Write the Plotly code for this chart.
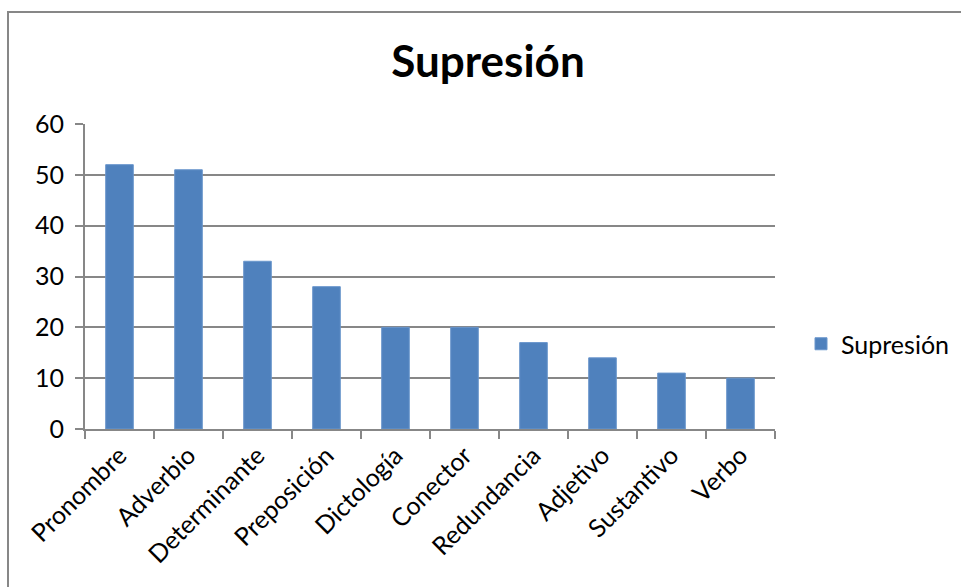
import plotly.graph_objects as go

categories = ["Pronombre", "Adverbio", "Determinante", "Preposición", "Dictología",
              "Conector", "Redundancia", "Adjetivo", "Sustantivo", "Verbo"]
values = [52, 51, 33, 28, 20, 20, 17, 14, 11, 10]
series_name = "Supresión"
y_ticks = [0, 10, 20, 30, 40, 50, 60]

FONT = "Lato, Carlito, Calibri, sans-serif"
GRID = "#878787"
TICK_SIZE = 25

# plot area in pixels
L, R, T, B = 85, 775, 124, 429
W, H = 961, 587

def px_x(p):
    return (p - L) / (R - L)

def px_y(p):
    return (B - p) / (B - T)

fig = go.Figure(
    go.Bar(
        x=categories,
        y=values,
        name=series_name,
        marker=dict(color="#4F81BD", line=dict(color="#6A96CC", width=1)),
        showlegend=True,
    )
)

fig.update_layout(
    width=W,
    height=H,
    margin=dict(l=L, r=W - R, t=T, b=H - B, pad=0, autoexpand=False),
    paper_bgcolor="white",
    plot_bgcolor="white",
    bargap=0.6,
    font=dict(family=FONT, size=TICK_SIZE, color="black"),
    title=dict(
        text="<b>Supresión</b>",
        font=dict(family=FONT, size=44, color="black"),
        x=488 / W,
        xanchor="center",
        y=1 - 62 / H,
        yanchor="middle",
    ),
    legend=dict(
        x=px_x(801),
        y=px_y(344),
        xanchor="left",
        yanchor="middle",
        font=dict(family=FONT, size=TICK_SIZE),
        itemwidth=30,
        bgcolor="rgba(0,0,0,0)",
    ),
    xaxis=dict(
        type="category",
        tickangle=-45,
        tickfont=dict(family=FONT, size=TICK_SIZE),
        showgrid=False,
        showline=True,
        linecolor=GRID,
        linewidth=2,
        ticks="outside",
        ticklen=8,
        tickcolor=GRID,
        tickwidth=2,
        tickson="boundaries",
        automargin=False,
        range=[-0.5, len(categories) - 0.5],
    ),
    yaxis=dict(
        range=[0, 60],
        tickvals=y_ticks,
        tickfont=dict(family=FONT, size=TICK_SIZE),
        showgrid=True,
        gridcolor=GRID,
        gridwidth=2,
        showline=True,
        linecolor=GRID,
        linewidth=2,
        ticks="outside",
        ticklen=8,
        tickcolor=GRID,
        tickwidth=2,
        zeroline=False,
        automargin=False,
        ticklabelstandoff=6,
    ),
    shapes=[
        dict(
            type="rect",
            xref="paper",
            yref="paper",
            x0=px_x(8),
            x1=px_x(968),
            y0=px_y(595),
            y1=px_y(12),
            line=dict(color=GRID, width=2),
            fillcolor="rgba(0,0,0,0)",
            layer="below",
        )
    ],
)

fig.write_html("out.html")
